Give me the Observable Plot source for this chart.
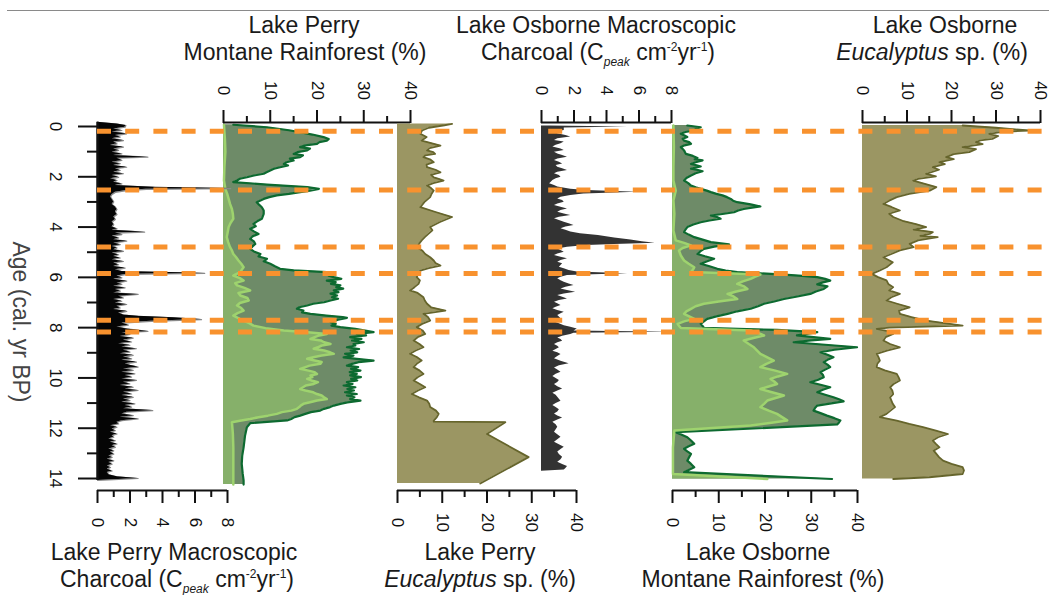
<!DOCTYPE html>
<html><head><meta charset="utf-8">
<script src="https://cdn.jsdelivr.net/npm/d3@7"></script>
<script src="https://cdn.jsdelivr.net/npm/@observablehq/plot@0.6"></script>
<style>
body{margin:0;background:#fff;}
#fig{position:relative;width:1049px;height:595px;overflow:hidden;font-family:"Liberation Sans",Arial,sans-serif;background:#fff;}
.t{position:absolute;transform:translate(-50%,-50%);font-size:23px;line-height:1;white-space:nowrap;color:#1a1a1a;}
.t sub{font-size:12px;line-height:0;vertical-align:-6px;font-style:italic;}
.t sup{font-size:12px;line-height:0;vertical-align:9px;}
</style></head>
<body><div id="fig">
<div style="position:absolute;left:7px;top:10px;width:1042px;height:1px;background:#8a8a8a"></div>
<div class="t" style="left:304px;top:25px">Lake Perry</div>
<div class="t" style="left:305px;top:52px">Montane Rainforest (%)</div>
<div class="t" style="left:596px;top:25px">Lake Osborne Macroscopic</div>
<div class="t" style="left:598px;top:52px">Charcoal (C<sub>peak</sub> cm<sup>-2</sup>yr<sup>-1</sup>)</div>
<div class="t" style="left:945px;top:25px">Lake Osborne</div>
<div class="t" style="left:932px;top:52px"><i>Eucalyptus</i> sp. (%)</div>
<div class="t" style="left:174px;top:552px">Lake Perry Macroscopic</div>
<div class="t" style="left:177px;top:579px">Charcoal (C<sub>peak</sub> cm<sup>-2</sup>yr<sup>-1</sup>)</div>
<div class="t" style="left:480px;top:552px">Lake Perry</div>
<div class="t" style="left:480px;top:579px"><i>Eucalyptus</i> sp. (%)</div>
<div class="t" style="left:758px;top:552px">Lake Osborne</div>
<div class="t" style="left:763px;top:579px">Montane Rainforest (%)</div>
<div class="t" style="left:20px;top:322px;transform:translate(-50%,-50%) rotate(90deg);color:#444">Age (cal. yr BP)</div>
</div>
<script>
// ---------- data: [age (cal. kyr BP), value] ----------
const ageTicks = [0,2,4,6,8,10,12,14];
const ageMinor = [1,3,5,7,9,11,13];
const charTicks = [0,2,4,6,8];
const charMinor = [1,3,5,7];
const pctTicks = [0,10,20,30,40];
const pctMinor = [5,15,25,35];
const breakAges = [0.19,2.53,4.79,5.85,7.71,8.17];

const perryCharcoal = [[-0.17,0],[-0.1,1.2],[-0.04,1.75],[0.03,1.7],[0.1,1.0],[0.16,1.5],[0.22,0.9],[0.29,1.8],[0.36,1.1],[0.42,1.4],[0.49,0.9],[0.56,1.6],[0.62,1.0],[0.69,1.2],[0.76,0.8],[0.82,1.6],[0.89,1.0],[0.95,1.3],[1.02,0.9],[1.09,1.5],[1.15,1.0],[1.22,3.1],[1.26,1.2],[1.35,1.5],[1.42,0.9],[1.48,1.4],[1.55,1.0],[1.62,1.8],[1.68,1.1],[1.75,1.4],[1.82,1.0],[1.88,1.6],[1.95,0.9],[2.02,1.3],[2.08,0.8],[2.15,1.2],[2.22,1.0],[2.28,1.5],[2.35,1.1],[2.42,3.5],[2.47,8.2],[2.5,3.0],[2.55,1.8],[2.62,1.1],[2.7,0.9],[2.8,0.8],[2.9,0.9],[3.0,1.0],[3.1,0.9],[3.2,1.1],[3.3,1.2],[3.4,1.1],[3.5,1.2],[3.6,1.0],[3.7,1.1],[3.8,0.9],[3.9,1.0],[4.0,0.9],[4.07,1.2],[4.13,0.9],[4.2,2.9],[4.24,1.1],[4.3,1.5],[4.36,0.9],[4.43,1.3],[4.5,1.0],[4.56,1.8],[4.63,1.0],[4.7,1.4],[4.77,0.9],[4.83,1.2],[4.9,1.0],[4.97,1.6],[5.03,0.9],[5.1,1.3],[5.17,1.0],[5.23,1.4],[5.3,0.9],[5.37,1.6],[5.43,1.0],[5.5,1.3],[5.57,1.0],[5.63,1.7],[5.7,1.1],[5.77,1.5],[5.84,6.6],[5.88,1.8],[5.95,1.2],[6.02,1.5],[6.08,1.0],[6.15,1.8],[6.22,1.2],[6.28,1.5],[6.35,1.0],[6.42,1.7],[6.48,1.1],[6.55,1.4],[6.62,1.0],[6.68,2.5],[6.75,1.3],[6.82,1.6],[6.88,1.0],[6.95,1.5],[7.02,1.1],[7.08,1.8],[7.15,1.2],[7.22,1.4],[7.28,1.0],[7.35,1.8],[7.42,1.3],[7.5,1.6],[7.55,2.5],[7.61,4.7],[7.68,6.4],[7.75,3.3],[7.82,1.5],[7.9,1.9],[7.97,1.2],[8.05,1.8],[8.15,3.1],[8.2,1.5],[8.27,2.0],[8.35,1.4],[8.42,2.2],[8.5,1.6],[8.57,2.1],[8.64,1.3],[8.7,2.0],[8.77,1.5],[8.84,2.4],[8.9,1.6],[8.97,2.0],[9.04,1.4],[9.1,2.2],[9.17,1.6],[9.24,2.1],[9.3,1.5],[9.37,2.4],[9.44,1.7],[9.5,2.0],[9.57,2.5],[9.64,1.6],[9.7,2.2],[9.77,1.5],[9.84,2.3],[9.9,1.7],[9.97,2.1],[10.04,1.5],[10.1,2.4],[10.17,1.6],[10.24,2.0],[10.3,1.4],[10.37,2.2],[10.44,1.7],[10.5,2.5],[10.57,1.6],[10.64,2.1],[10.7,1.5],[10.77,2.2],[10.84,1.6],[10.9,2.0],[10.97,1.5],[11.03,2.3],[11.1,1.7],[11.16,2.1],[11.23,1.6],[11.3,3.4],[11.36,1.8],[11.43,1.5],[11.5,2.2],[11.56,1.4],[11.63,2.5],[11.7,1.5],[11.76,1.2],[11.83,1.3],[11.9,0.8],[11.96,1.2],[12.03,0.9],[12.1,1.1],[12.16,0.8],[12.23,1.2],[12.3,0.9],[12.36,1.0],[12.43,0.7],[12.5,1.1],[12.56,0.8],[12.63,1.2],[12.7,0.9],[12.76,1.1],[12.83,0.7],[12.9,1.0],[12.96,0.8],[13.03,1.0],[13.1,0.7],[13.16,0.9],[13.23,0.6],[13.3,1.0],[13.36,0.7],[13.43,0.9],[13.5,0.6],[13.56,0.8],[13.63,0.6],[13.7,0.9],[13.76,0.6],[13.85,0.7],[13.93,1.2],[14.0,2.5],[14.05,1.0],[14.08,0]];

const perryMRtotal = [[-0.07,2.1],[0.03,9.3],[0.15,14],[0.23,16.4],[0.32,19],[0.42,21.4],[0.5,22.5],[0.56,22.1],[0.62,20.5],[0.69,20],[0.75,17.5],[0.82,16.4],[0.88,18.5],[0.95,17.9],[1.02,15.8],[1.09,15],[1.15,17],[1.22,16.4],[1.28,14.2],[1.35,15],[1.42,13.5],[1.49,12.9],[1.55,13.8],[1.62,12.1],[1.68,10.8],[1.75,10],[1.82,9.2],[1.88,8.6],[1.95,6.5],[2.02,5],[2.08,3.5],[2.15,2.9],[2.21,2.1],[2.31,9.3],[2.41,17.9],[2.48,20.4],[2.55,18.5],[2.61,16.4],[2.68,14],[2.74,11.4],[2.81,9.8],[2.88,8.6],[3.01,7.1],[3.11,7.6],[3.21,8.2],[3.34,8.6],[3.47,8.6],[3.57,8.4],[3.67,8.2],[3.77,7.2],[3.87,6.4],[3.97,6.9],[4.07,5.7],[4.17,6.5],[4.27,7.5],[4.37,6.2],[4.47,5.7],[4.57,6.5],[4.67,6.8],[4.77,6.2],[4.87,5.7],[4.97,6.5],[5.07,7.9],[5.17,7.5],[5.26,9.3],[5.36,8.6],[5.46,10],[5.56,11],[5.66,12.1],[5.72,15],[5.79,22.1],[5.86,23.8],[5.93,22.5],[5.99,23.6],[6.06,25.2],[6.13,22.1],[6.19,24],[6.26,23],[6.32,25],[6.39,24.1],[6.45,25.6],[6.52,23.6],[6.59,24.6],[6.65,22.9],[6.72,24.3],[6.79,23.2],[6.85,24.5],[6.92,22.9],[6.99,21.5],[7.05,19.2],[7.12,17.9],[7.19,16.2],[7.25,15.7],[7.32,17.1],[7.39,16.8],[7.45,18.6],[7.52,22],[7.58,25.5],[7.61,26.4],[7.68,24.5],[7.78,22.9],[7.85,24],[7.92,23.1],[7.98,25],[8.05,28.2],[8.11,30],[8.18,32.1],[8.25,28.5],[8.31,30.5],[8.38,27.1],[8.45,29.5],[8.51,27.5],[8.58,30],[8.65,27.8],[8.71,28.2],[8.78,26.4],[8.85,29],[8.91,27.2],[8.98,28.6],[9.04,26],[9.11,27.8],[9.18,25.7],[9.24,28.5],[9.31,32.1],[9.37,28.9],[9.44,27.5],[9.51,26.4],[9.57,28.8],[9.64,27.3],[9.71,29.3],[9.77,27],[9.84,28.5],[9.9,27.1],[9.97,29.4],[10.04,27.3],[10.1,28.6],[10.17,26.4],[10.24,27.6],[10.3,25.7],[10.37,28.2],[10.44,26.5],[10.5,27.9],[10.57,26],[10.64,28.5],[10.7,26.4],[10.77,28],[10.84,27.1],[10.9,29.3],[10.97,26.5],[11.03,25],[11.1,23.6],[11.16,22.8],[11.23,21.5],[11.3,20.7],[11.36,18.7],[11.43,17.5],[11.5,16.4],[11.56,15.2],[11.63,14.5],[11.69,13.6],[11.8,5.7],[11.96,5],[12.3,4.6],[12.76,4.3],[13.1,4.0],[13.42,3.9],[13.8,4.1],[14.08,4.3],[14.24,4.3]];

const perryMRsub = [[-0.07,0.1],[0.5,0.3],[1.0,0.4],[1.6,0.2],[2.15,0.1],[2.48,0.4],[2.68,0.8],[2.88,1.1],[3.08,1.4],[3.28,1.8],[3.47,2.0],[3.67,2.1],[3.84,1.5],[4.0,1.1],[4.2,0.9],[4.4,0.7],[4.6,1.0],[4.8,1.4],[4.93,1.8],[5.07,2.1],[5.2,2.7],[5.33,3.2],[5.46,3.8],[5.6,4.3],[5.7,3.9],[5.79,3.6],[5.86,2.8],[5.93,2.1],[6.03,3.5],[6.13,4.3],[6.23,2.5],[6.32,2.9],[6.42,4.5],[6.52,5.7],[6.62,3.2],[6.72,3.6],[6.82,5.1],[6.92,5.4],[7.02,3.5],[7.12,2.9],[7.22,3.8],[7.32,4.3],[7.42,3.0],[7.52,2.1],[7.65,3.5],[7.72,4.3],[7.82,5.5],[7.92,6.4],[8.02,9],[8.11,12.9],[8.18,18],[8.25,22.1],[8.31,20.5],[8.38,19.5],[8.45,18.6],[8.51,20.8],[8.58,21.5],[8.65,22.9],[8.71,21],[8.78,20.2],[8.84,19.3],[8.91,21.5],[8.98,22.8],[9.04,23.6],[9.11,21],[9.18,19.2],[9.24,17.9],[9.31,19.5],[9.37,21],[9.44,20.7],[9.51,18.4],[9.57,17.5],[9.64,16.4],[9.71,18.2],[9.77,19.5],[9.84,20],[9.9,18.6],[9.97,19],[10.04,17.9],[10.1,18.8],[10.17,20.2],[10.24,19.3],[10.3,17.6],[10.37,17],[10.44,16.4],[10.5,17.5],[10.57,19.2],[10.64,20],[10.7,21],[10.77,21.5],[10.84,22.1],[10.9,20],[10.97,18.5],[11.03,17.1],[11.1,16.5],[11.16,16.2],[11.23,15.7],[11.3,14.5],[11.36,12.5],[11.43,11.4],[11.5,9.5],[11.56,7.5],[11.63,5.7],[11.7,3.5],[11.76,1.8],[12.2,2.0],[12.76,2.1],[13.5,2.1],[14.24,2.1]];

const perryEuc = [[-0.1,12.2],[-0.05,10.5],[0.05,7],[0.16,5.5],[0.29,5.1],[0.42,6.5],[0.56,5.4],[0.66,7.5],[0.76,9.6],[0.86,7.2],[0.95,6.6],[1.02,8],[1.09,8.4],[1.15,6.2],[1.22,5.8],[1.32,7.4],[1.42,8.1],[1.52,6.5],[1.62,6.6],[1.72,8.5],[1.82,9.6],[1.92,7.5],[2.02,8.1],[2.08,9.2],[2.15,10.3],[2.25,8],[2.35,6.6],[2.45,7.5],[2.55,8.1],[2.68,7.6],[2.81,7.3],[3.01,6],[3.21,5.1],[3.4,8.5],[3.6,12.2],[3.8,9.5],[4.0,7.3],[4.13,7.8],[4.27,6.9],[4.4,6.1],[4.53,5.4],[4.67,4.8],[4.8,4.3],[4.93,5.5],[5.07,6.2],[5.2,7.3],[5.33,8.1],[5.43,8.5],[5.53,9.6],[5.63,7],[5.73,5.1],[5.86,4.6],[5.99,4.3],[6.12,5],[6.26,4.7],[6.39,3.8],[6.52,2.8],[6.62,4.5],[6.79,5.8],[6.92,6.1],[7.05,6.6],[7.19,7.5],[7.32,10.7],[7.45,5.8],[7.58,6.8],[7.72,7.3],[7.85,5.5],[7.98,4.3],[8.11,5.6],[8.25,6.2],[8.38,4.5],[8.51,3.6],[8.65,4.9],[8.78,5.8],[8.91,4.1],[9.04,2.8],[9.17,4.3],[9.31,5.4],[9.44,4.3],[9.57,3.6],[9.7,4.9],[9.84,5.8],[9.97,4.5],[10.1,3.6],[10.24,5],[10.37,6.2],[10.5,4.6],[10.64,3.2],[10.77,4.8],[10.9,6.6],[11.03,7.1],[11.16,7.3],[11.3,8.6],[11.43,9.2],[11.56,8.8],[11.7,8.1],[11.74,8.1],[11.76,24.1],[12.23,20],[13.15,29.3],[14.2,18.5]];

const osborneCharcoal = [[-0.02,0.5],[0.02,5.3],[0.06,1.4],[0.16,1.4],[0.22,0.9],[0.29,1.0],[0.36,1.5],[0.42,1.8],[0.49,1.0],[0.56,0.8],[0.62,1.4],[0.69,1.2],[0.75,0.9],[0.82,0.7],[0.89,1.2],[0.95,1.4],[1.02,0.8],[1.09,1.0],[1.15,1.3],[1.22,1.6],[1.29,1.0],[1.35,0.8],[1.42,1.1],[1.49,1.3],[1.55,0.9],[1.62,1.0],[1.68,1.3],[1.75,1.6],[1.82,1.0],[1.88,0.8],[1.95,1.1],[2.02,1.2],[2.08,0.9],[2.15,0.7],[2.22,0.6],[2.28,0.5],[2.35,0.8],[2.41,1.0],[2.5,1.8],[2.55,2.8],[2.62,5.9],[2.68,2.6],[2.74,1.8],[2.81,1.2],[2.88,1.0],[2.94,1.3],[3.01,1.4],[3.08,1.0],[3.14,0.8],[3.21,1.2],[3.28,1.6],[3.34,1.2],[3.41,1.0],[3.48,1.4],[3.54,1.8],[3.61,1.1],[3.67,0.8],[3.74,1.1],[3.81,1.4],[3.87,1.7],[3.94,2.0],[4.0,1.5],[4.07,1.2],[4.13,1.5],[4.2,1.8],[4.27,2.4],[4.34,3.5],[4.43,4.5],[4.51,5.5],[4.58,6.2],[4.64,7.0],[4.69,4.5],[4.73,2.8],[4.8,1.6],[4.87,1.0],[4.93,1.2],[5.0,1.4],[5.07,1.0],[5.13,0.8],[5.2,1.2],[5.26,1.6],[5.33,1.2],[5.4,1.0],[5.46,1.3],[5.53,1.2],[5.6,1.1],[5.66,1.4],[5.73,1.7],[5.79,2.2],[5.86,5.3],[5.93,1.6],[6.0,1.2],[6.06,1.0],[6.13,1.2],[6.19,1.4],[6.26,1.7],[6.32,2.0],[6.39,1.5],[6.46,1.2],[6.52,1.6],[6.59,2.1],[6.66,1.4],[6.72,1.0],[6.79,1.3],[6.86,1.6],[6.92,1.1],[6.99,0.8],[7.05,1.0],[7.12,1.2],[7.19,0.9],[7.25,0.7],[7.32,1.0],[7.39,1.4],[7.45,1.2],[7.52,1.0],[7.58,1.1],[7.65,1.2],[7.72,0.9],[7.78,0.8],[7.85,1.1],[7.92,1.4],[7.98,1.8],[8.05,2.2],[8.13,2.0],[8.18,8.1],[8.22,2.0],[8.27,1.8],[8.34,1.3],[8.41,1.0],[8.47,1.2],[8.54,1.3],[8.6,1.0],[8.67,0.8],[8.74,1.0],[8.8,1.1],[8.87,0.9],[8.94,0.7],[9.0,1.0],[9.07,1.2],[9.15,1.0],[9.24,0.8],[9.34,1.2],[9.44,1.7],[9.52,1.1],[9.6,0.8],[9.68,1.0],[9.77,1.2],[9.85,0.9],[9.94,0.7],[10.02,0.9],[10.1,1.1],[10.18,1.0],[10.26,0.8],[10.35,1.0],[10.44,1.3],[10.52,1.0],[10.61,0.7],[10.69,0.9],[10.77,1.0],[10.85,1.1],[10.93,1.2],[11.02,0.9],[11.1,0.7],[11.18,0.9],[11.27,1.1],[11.35,1.0],[11.43,0.8],[11.51,1.0],[11.59,1.3],[11.67,1.0],[11.76,0.7],[11.86,0.9],[11.96,1.0],[12.06,0.9],[12.16,0.8],[12.26,1.0],[12.36,1.2],[12.46,1.0],[12.56,0.8],[12.66,1.1],[12.76,1.4],[12.85,1.2],[12.95,1.0],[13.05,1.1],[13.15,1.3],[13.25,1.2],[13.35,1.0],[13.44,1.3],[13.52,1.6],[13.6,1.5],[13.66,1.4],[13.71,0]];

const osborneMRtotal = [[-0.04,3.2],[0.03,6.1],[0.1,5.0],[0.16,4.7],[0.22,2.8],[0.29,1.8],[0.36,2.6],[0.42,3.2],[0.49,2.2],[0.56,2.5],[0.62,3.6],[0.69,4],[0.75,2.6],[0.82,1.8],[0.89,2.2],[0.95,2.5],[1.02,2.7],[1.09,2.9],[1.17,4.4],[1.25,5.4],[1.3,4.8],[1.35,6.5],[1.42,5.0],[1.49,4],[1.54,5.2],[1.59,6.1],[1.64,4.8],[1.68,4],[1.73,5.5],[1.78,6.5],[1.86,5.0],[1.95,4],[2.05,3.0],[2.15,2.5],[2.25,3.4],[2.35,4],[2.42,5.0],[2.48,6.1],[2.55,7.4],[2.61,8.3],[2.68,9.5],[2.74,10.8],[2.81,11.8],[2.88,12.6],[2.95,13.1],[3.01,14],[3.1,16.9],[3.18,19],[3.23,17.2],[3.28,15.4],[3.34,14.2],[3.41,13.3],[3.48,10.8],[3.54,8.3],[3.6,9.6],[3.67,10.4],[3.74,8.0],[3.81,6.1],[3.9,4.5],[4.0,3.2],[4.1,2.8],[4.2,2.5],[4.3,3.5],[4.4,4.7],[4.5,6.5],[4.6,8.3],[4.69,12.2],[4.78,9.0],[4.87,6.8],[4.97,6.0],[5.07,5.4],[5.16,7.0],[5.26,9],[5.36,7.5],[5.46,6.1],[5.56,8.0],[5.66,9.7],[5.73,11.5],[5.79,14],[5.89,24.1],[5.94,28],[5.99,31.3],[6.06,33.0],[6.13,34.1],[6.2,32.5],[6.28,31.3],[6.36,33.5],[6.46,32.7],[6.56,31.0],[6.66,29.8],[6.76,27.0],[6.86,24.1],[6.96,22.0],[7.05,19.8],[7.15,18.5],[7.25,16.9],[7.35,14.0],[7.45,11.9],[7.55,9.5],[7.65,7.5],[7.75,6.8],[7.85,6.1],[7.93,6.5],[8.01,6.8],[8.09,22.6],[8.18,31.3],[8.25,29.0],[8.31,26.9],[8.38,30.5],[8.45,34.1],[8.51,30.0],[8.58,26.2],[8.68,33.0],[8.78,39.9],[8.88,35.0],[8.98,32],[9.08,33.5],[9.18,34.8],[9.28,33.5],[9.37,32.7],[9.47,33.5],[9.57,34.1],[9.67,33.0],[9.77,32],[9.87,32.5],[9.97,32.7],[10.07,31.5],[10.17,29.8],[10.27,32.0],[10.37,34.1],[10.47,32.5],[10.57,31.3],[10.67,33.0],[10.77,34.8],[10.85,36.0],[10.93,37],[11.02,34.0],[11.1,31.3],[11.2,30.8],[11.3,30.5],[11.4,32.0],[11.5,33.4],[11.6,35.0],[11.69,36.3],[11.77,36.0],[11.85,35.6],[12.16,0.7],[12.26,2.0],[12.36,3.2],[12.49,4.0],[12.62,4.7],[12.72,3.5],[12.82,2.5],[12.92,3.2],[13.02,4],[13.15,3.6],[13.29,3.2],[13.42,4.0],[13.55,4.7],[13.65,3.6],[13.75,2.5],[14.02,34.5]];

const osborneMRsub = [[-0.04,0.2],[0.8,0.3],[1.6,0.2],[2.15,0.2],[2.55,0.7],[2.94,0.2],[3.47,0.4],[4.14,0.2],[4.53,0.7],[4.63,2.5],[4.73,4],[4.83,2.2],[4.93,1.4],[5.13,1.8],[5.33,2.5],[5.46,3.5],[5.6,4.7],[5.7,4.4],[5.79,4],[5.89,19],[5.98,17.8],[6.06,16.9],[6.16,15.2],[6.26,14],[6.36,15.5],[6.46,16.2],[6.56,13.8],[6.66,11.9],[6.76,13.2],[6.86,14],[6.96,10.0],[7.05,6.8],[7.15,5.0],[7.25,4],[7.35,3.0],[7.45,2.5],[7.55,3.6],[7.65,4.7],[7.75,2.5],[7.85,1.1],[7.93,1.4],[8.01,1.8],[8.11,16.9],[8.21,18.5],[8.31,19.8],[8.41,17.5],[8.51,15.4],[8.65,16.5],[8.78,17.6],[8.91,18.3],[9.04,19],[9.18,20.5],[9.31,21.9],[9.44,20.3],[9.57,19],[9.7,22.0],[9.84,24.8],[9.94,22.8],[10.04,21.2],[10.14,22.0],[10.24,22.6],[10.34,20.8],[10.44,19],[10.57,21.5],[10.7,24.1],[10.8,22.3],[10.9,20.5],[11.03,19.8],[11.16,19],[11.3,20.8],[11.43,22.6],[11.56,23.7],[11.69,24.8],[11.79,21.0],[11.89,16.9],[12.09,0.4],[12.76,0.1],[13.82,0.1],[14.02,20.5]];

const osborneEuc = [[-0.04,22.5],[0.05,30],[0.16,37.4],[0.22,31],[0.29,28.5],[0.38,30.5],[0.49,29.2],[0.55,26.5],[0.62,25.5],[0.7,27],[0.82,22.5],[0.9,25.5],[1.02,24],[1.1,20.5],[1.22,18.8],[1.3,20.5],[1.42,17.3],[1.5,18.5],[1.62,15.8],[1.72,17.2],[1.88,14.3],[1.98,16.5],[2.08,12.5],[2.15,11.4],[2.28,14],[2.41,16.6],[2.55,15.1],[2.68,10.5],[2.81,7.7],[2.95,6],[3.08,4.7],[3.2,6.5],[3.34,8.4],[3.47,6],[3.6,6.9],[3.75,9],[3.88,12],[4.0,14.3],[4.1,11.5],[4.2,15.8],[4.27,15.1],[4.35,13],[4.4,16.9],[4.53,12.5],[4.67,10.6],[4.8,11.5],[4.93,8.4],[5.07,6.5],[5.2,4.7],[5.4,6.8],[5.6,5.4],[5.73,3.8],[5.86,2.1],[5.99,3.5],[6.12,5.4],[6.26,5.8],[6.39,6.9],[6.52,6],[6.66,8.4],[6.79,6.5],[6.92,5.4],[7.05,7.8],[7.19,10.6],[7.32,8.2],[7.45,8.4],[7.58,11],[7.72,14.3],[7.92,22.5],[8.0,6],[8.05,3.2],[8.15,6],[8.25,6.9],[8.38,5.2],[8.51,4.7],[8.65,6.2],[8.78,8.4],[8.91,5.5],[9.04,3.2],[9.17,3.6],[9.31,3.9],[9.44,3.3],[9.57,3.2],[9.7,5],[9.84,7.7],[9.97,8.1],[10.1,8.4],[10.24,7],[10.37,6.2],[10.5,6.7],[10.64,6.9],[10.77,6.2],[10.9,6.5],[11.03,6.8],[11.16,7.3],[11.3,6.3],[11.43,5.4],[11.56,3.9],[11.7,7.7],[11.83,10.5],[11.96,13.6],[12.1,16.5],[12.23,19.2],[12.36,17],[12.49,15.8],[12.62,16.5],[12.76,17.3],[12.89,16],[13.02,16.6],[13.15,17.2],[13.29,18.1],[13.42,20],[13.55,22.5],[13.68,22.8],[13.82,22.5],[13.95,15],[14.02,6.9]];

// ---------- styling ----------
const INK = "#111";
const DARK_FILL = "#6e8b68", LIGHT_FILL = "#86b06a";
const DARK_LINE = "#0d6a30", LIGHT_LINE = "#9ed36e";
const OLIVE_FILL = "#9b9663", OLIVE_LINE = "#66652c";
const ORANGE = "#f8922e";
const W = 1049, H = 595;
const yDomain = [-0.159, 14.477];
const age = d => d[0], val = d => d[1];

function panel(left, right, xDomain, marks) {
  return Plot.plot({
    width: W, height: H,
    marginTop: 122, marginBottom: 105, marginLeft: left, marginRight: W - right,
    x: {domain: xDomain, axis: null},
    y: {domain: yDomain, reverse: true, axis: null},
    style: "position:absolute;left:0;top:0;background:transparent;overflow:visible;font-family:'Liberation Sans',Arial,sans-serif;",
    marks
  });
}
function xAxis(anchor, major, minor, xDomain) {
  const top = anchor === "top";
  return [
    Plot.ruleY([top ? yDomain[0] : yDomain[1]], {x1: xDomain[0], x2: xDomain[1], stroke: INK, strokeWidth: 2}),
    Plot.axisX(major, {anchor, tickSize: 13, strokeWidth: 2, color: INK, tickFormat: () => "", label: null}),
    Plot.axisX(minor, {anchor, tickSize: 7, strokeWidth: 2, color: INK, tickFormat: () => "", label: null}),
    Plot.axisX(major, {anchor, tickSize: 0, tickPadding: 32, color: INK, rotate: 90,
      textAnchor: "middle", lineAnchor: "middle", fontSize: 17, label: null})
  ];
}
function twoSeries(total, sub) {
  return [
    Plot.areaX(total, {y: age, x: val, fill: DARK_FILL}),
    Plot.areaX(sub, {y: age, x: val, fill: LIGHT_FILL}),
    Plot.lineX(total, {y: age, x: val, stroke: DARK_LINE, strokeWidth: 2.2}),
    Plot.lineX(sub, {y: age, x: val, stroke: LIGHT_LINE, strokeWidth: 2.5})
  ];
}
function olive(data) {
  return [
    Plot.areaX(data, {y: age, x: val, fill: OLIVE_FILL}),
    Plot.lineX(data, {y: age, x: val, stroke: OLIVE_LINE, strokeWidth: 1.8})
  ];
}

const fig = document.getElementById("fig");
const ext = d3.extent(perryCharcoal, age);

fig.append(panel(223, 410, [0, 40], [...twoSeries(perryMRtotal, perryMRsub), ...xAxis("top", pctTicks, pctMinor, [0, 40])]));
fig.append(panel(97, 227, [0, 8], [
  Plot.lineX(perryCharcoal, {y: age, x: val, stroke: "#8a8a8a", strokeWidth: 1.2}),
  Plot.areaX(perryCharcoal, {y: age, x: val, fill: "#050505"}),
  Plot.ruleX([0], {y1: ext[0], y2: ext[1], stroke: INK, strokeWidth: 2.5}),
  Plot.axisY(ageTicks, {anchor: "left", tickSize: 19, strokeWidth: 2, color: INK, tickFormat: () => "", label: null}),
  Plot.axisY(ageMinor, {anchor: "left", tickSize: 10, strokeWidth: 2, color: INK, tickFormat: () => "", label: null}),
  Plot.axisY(ageTicks, {anchor: "left", tickSize: 0, tickPadding: 42, color: INK,
    rotate: 90, textAnchor: "middle", lineAnchor: "middle", fontSize: 17, label: null}),
  ...xAxis("bottom", charTicks, charMinor, [0, 8])
]));
fig.append(panel(397, 576, [0, 40], [...olive(perryEuc), ...xAxis("bottom", pctTicks, pctMinor, [0, 40])]));
fig.append(panel(672, 857, [0, 40], [...twoSeries(osborneMRtotal, osborneMRsub), ...xAxis("bottom", pctTicks, pctMinor, [0, 40])]));
fig.append(panel(541, 671, [0, 8], [
  Plot.areaX(osborneCharcoal, {y: age, x: val, fill: "#333"}),
  ...xAxis("top", charTicks, charMinor, [0, 8])
]));
fig.append(panel(862, 1040, [0, 40], [...olive(osborneEuc), ...xAxis("top", pctTicks, pctMinor, [0, 40])]));
fig.append(panel(97, 1045, [0, 1], [
  Plot.ruleY(breakAges, {stroke: ORANGE, strokeWidth: 5, strokeDasharray: "14,14.2"})
]));
</script>
</body></html>
